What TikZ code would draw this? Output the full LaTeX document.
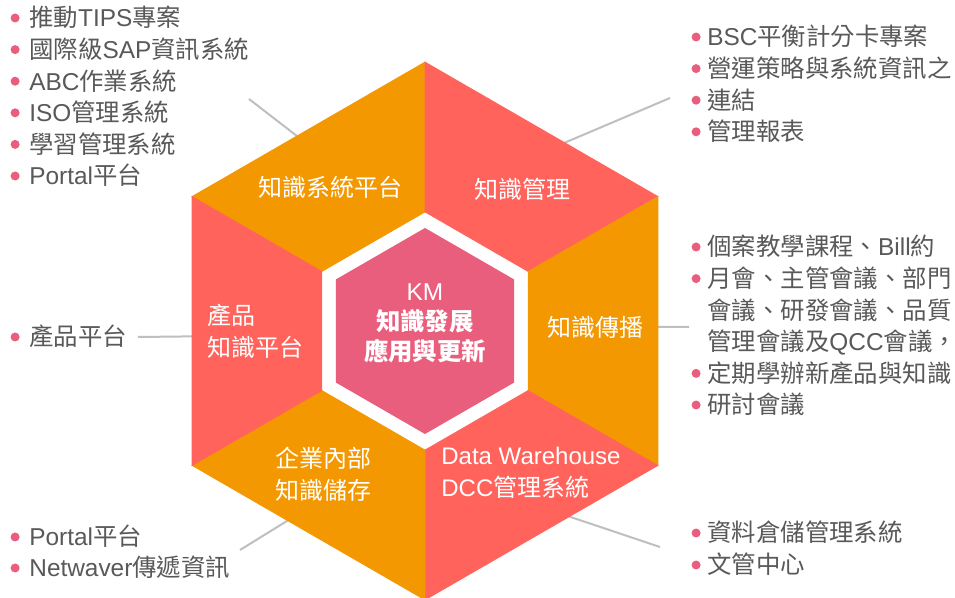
\documentclass[tikz,border=0pt]{standalone}
\usepackage{fontspec}
\setmainfont{Noto Sans CJK TC}
\newfontfamily\en{Liberation Sans}
\usetikzlibrary{calc}

\definecolor{segorange}{HTML}{F39800}
\definecolor{segcoral}{HTML}{FF635C}
\definecolor{kmpink}{HTML}{E95E7D}
\definecolor{listgray}{HTML}{595959}
\definecolor{linegray}{HTML}{BFBFBF}

\begin{document}
\begin{tikzpicture}[x=0.5pt, y=-0.5pt,
	bulletdot/.style={circle, fill=kmpink, inner sep=0pt, minimum size=4.5pt, text height=0pt, text depth=0pt},
	itemtext/.style={anchor=west, inner sep=0pt, text=listgray, font=\fontsize{12.2}{15}\selectfont, text height=10.5pt, text depth=1.5pt},
	item/.style={itemtext, label={[bulletdot, xshift=-#1]left:{}}},
	item/.default=4.5pt,
	seglabel/.style={text=white, inner sep=0pt, font=\fontsize{12}{16}\selectfont},
	link/.style={linegray, line width=1pt}]
	\useasboundingbox (0,0) rectangle (955,598);
	\fill[white] (0,0) rectangle (955,598);

	\coordinate (c) at (425,331);
	\foreach \a in {30,90,150,210,270,330}{
		\coordinate (o\a) at ($(c)+(\a:269)$);
		\coordinate (w\a) at ($(c)+(\a:119)$);
		\coordinate (p\a) at ($(c)+(\a:103)$);
	}

	% list items
	\node[item] (tl1) at (29,18) {推動{\en TIPS}專案};
	\node[item] (tl2) at (29,49.6) {國際級{\en SAP}資訊系統};
	\node[item] (tl3) at (29,81.2) {{\en ABC}作業系統};
	\node[item] (tl4) at (29,112.8) {{\en ISO}管理系統};
	\node[item] (tl5) at (29,144.4) {學習管理系統};
	\node[item] (tl6) at (29,176) {{\en Portal}平台};

	\node[item=3pt] (tr1) at (707,37) {{\en BSC}平衡計分卡專案};
	\node[item=3pt] (tr2) at (707,68.6) {營運策略與系統資訊之};
	\node[item=3pt] (tr3) at (707,100.2) {連結};
	\node[item=3pt] (tr4) at (707,131.8) {管理報表};

	\node[item=3pt] (r1) at (707,247) {個案教學課程、{\en Bill}約};
	\node[item=3pt] (r2) at (707,278.6) {月會、主管會議、部門};
	\node[itemtext] (r3) at (707,310.2) {會議、研發會議、品質};
	\node[itemtext] (r4) at (707,341.8) {管理會議及{\en QCC}會議，};
	\node[item=3pt] (r5) at (707,373.4) {定期學辦新產品與知識};
	\node[item=3pt] (r6) at (707,405) {研討會議};

	\node[item=3pt] (br1) at (707,533) {資料倉儲管理系統};
	\node[item=3pt] (br2) at (707,565) {文管中心};

	\node[item] (l1) at (29,337) {產品平台};

	\node[item] (bl1) at (29,537) {{\en Portal}平台};
	\node[item] (bl2) at (29,568) {{\en Netwaver}傳遞資訊};

	% connectors
	\coordinate (tlend) at (249,99);
	\coordinate (trend) at (670,98);
	\coordinate (lend) at (138,337);
	\coordinate (rend) at (689,327);
	\coordinate (blend) at (240,550);
	\coordinate (brend) at (660,547);
	\coordinate (etl) at ($(o210)!0.45!(o270)$);
	\coordinate (etr) at ($(o270)!0.6!(o330)$);
	\coordinate (el) at ($(o210)!0.52!(o150)$);
	\coordinate (er) at ($(o330)!0.485!(o30)$);
	\coordinate (ebl) at ($(o150)!0.41!(o90)$);
	\coordinate (ebr) at ($(o30)!0.38!(o90)$);
	\draw[link] (tlend) -- (etl);
	\draw[link] (trend) -- (etr);
	\draw[link] (lend) -- (el);
	\draw[link] (rend) -- (er);
	\draw[link] (blend) -- (ebl);
	\draw[link] (brend) -- (ebr);

	% hexagon
	\foreach \a/\b/\col in {210/270/segorange, 270/330/segcoral, 330/30/segorange, 30/90/segcoral, 90/150/segorange, 150/210/segcoral}
		\filldraw[\col, line width=0.3pt] (o\a) -- (o\b) -- (w\b) -- (w\a) -- cycle;
	\fill[kmpink] (p30) -- (p90) -- (p150) -- (p210) -- (p270) -- (p330) -- cycle;

	\node[seglabel] (lblsys) at (330,187) {知識系統平台};
	\node[seglabel] (lblmgmt) at (522,189) {知識管理};
	\node[seglabel, anchor=west, align=left] (lblprod) at (207,331) {產品\\知識平台};
	\node[seglabel] (lblspread) at (595,327) {知識傳播};
	\node[seglabel, align=center] (lblstore) at (323,474) {企業內部\\知識儲存};
	\node[seglabel, anchor=west, align=left] (lbldw) at (441,472.5) {{\en Data Warehouse}\\{\en DCC}管理系統};
	\node[seglabel, align=center, font=\fontsize{12.2}{15}\selectfont] (km) at (425,323) {{\en KM}\\{\bfseries 知識發展}\\{\bfseries 應用與更新}};
\end{tikzpicture}
\end{document}
